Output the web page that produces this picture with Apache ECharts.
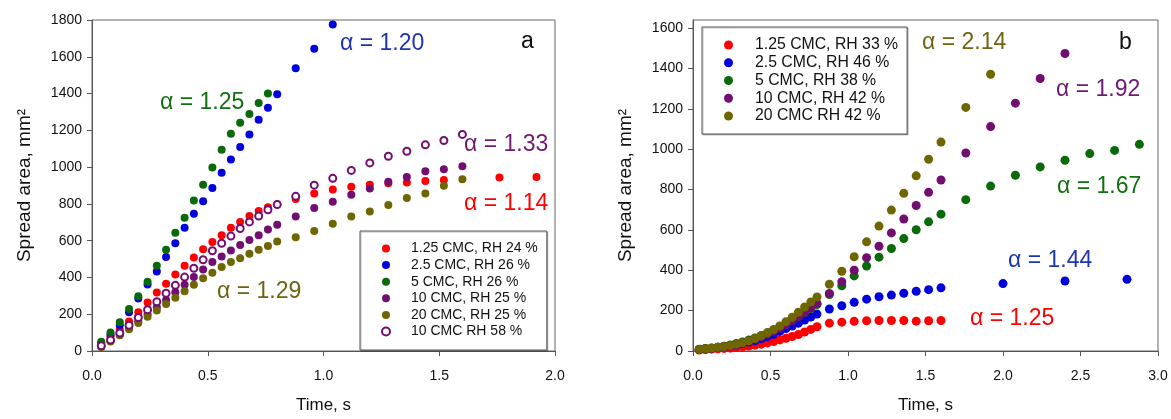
<!DOCTYPE html>
<html>
<head>
<meta charset="utf-8">
<title>Spread area vs time</title>
<script src="https://cdn.jsdelivr.net/npm/echarts@6/dist/echarts.min.js"></script>
<style>
  html, body { margin: 0; padding: 0; background: #fff; }
  #chart { width: 1171px; height: 419px; }
</style>
</head>
<body>
<div id="chart"></div>
<script>
// ---- panel a : time axes (s) ----
var tDenseA = [0.04, 0.08, 0.12, 0.16, 0.20, 0.24, 0.28, 0.32, 0.36, 0.40,
               0.44, 0.48, 0.52, 0.56, 0.60, 0.64, 0.68, 0.72, 0.76, 0.80]
var tSparseA = [0.88, 0.96, 1.04, 1.12, 1.20, 1.28, 1.36, 1.44, 1.52, 1.60]
var tRedTailA = [0.88, 0.96, 1.04, 1.12, 1.20, 1.28, 1.36, 1.44, 1.52, 1.76, 1.92]
var tBlueTailA = [0.88, 0.96, 1.04]

// ---- panel a : spread area (mm2) ----
var redA = [40, 80, 116, 161, 211, 264, 318, 366, 416, 464, 509, 553, 593, 630, 670, 702, 734, 761, 782, 798,
            827, 857, 878, 893, 904, 912, 916, 925, 930, 943, 946]
var blueA = [45, 90, 140, 211, 286, 361, 432, 511, 586, 670, 746, 814, 887, 969, 1041, 1110, 1177, 1257, 1323, 1396,
             1537, 1644, 1775]
var greenA = [50, 100, 157, 229, 298, 377, 464, 551, 643, 725, 818, 904, 998, 1094, 1182, 1241, 1289, 1348, 1400]
var purpleA = [25, 55, 90, 125, 162, 200, 238, 277, 320, 360, 402, 443, 484, 514, 546, 577, 604, 630, 661, 687,
               732, 777, 812, 850, 884, 920, 946, 977, 989, 1005]
var oliveA = [22, 52, 85, 118, 152, 186, 220, 255, 290, 325, 360, 395, 425, 457, 484, 505, 529, 550, 571, 595,
              618, 653, 692, 732, 759, 794, 832, 857, 898, 934]
var hollowA = [28, 60, 98, 140, 182, 225, 268, 314, 357, 402, 450, 496, 545, 586, 625, 666, 702, 734, 768, 796,
               841, 902, 939, 982, 1023, 1059, 1086, 1121, 1145, 1178]

// ---- panel b : time axes (s) ----
var tDenseB = [0.04, 0.08, 0.12, 0.16, 0.20, 0.24, 0.28, 0.32, 0.36, 0.40,
               0.44, 0.48, 0.52, 0.56, 0.60, 0.64, 0.68, 0.72, 0.76, 0.80]
var tSparseB = [0.88, 0.96, 1.04, 1.12, 1.20, 1.28, 1.36, 1.44, 1.52, 1.60]
var tBlueTailB = [2.0, 2.4, 2.8]
var tGreenTailB = [1.76, 1.92, 2.08, 2.24, 2.40, 2.56, 2.72, 2.88]
var tPurpleTailB = [1.76, 1.92, 2.08, 2.24, 2.40]
var tOliveTailB = [1.76, 1.92]

// ---- panel b : spread area (mm2) ----
var redB = [5, 7, 9, 11, 13, 15, 18, 21, 25, 29, 34, 40, 47, 55, 63, 72, 82, 94, 107, 120,
            138, 143, 147, 150, 151, 151, 151, 148, 150, 151]
var blueB = [7, 10, 13, 17, 21, 26, 31, 37, 44, 52, 61, 71, 83, 97, 111, 124, 138, 153, 168, 183,
             208, 224, 241, 257, 269, 277, 286, 296, 304, 313,
             334, 347, 355]
var greenB = [9, 12, 15, 19, 24, 30, 37, 45, 54, 65, 77, 90, 104, 119, 135, 152, 171, 190, 210, 230,
              280, 323, 372, 421, 465, 508, 557, 601, 640, 678,
              750, 817, 871, 912, 945, 978, 994, 1024]
var purpleB = [8, 11, 14, 18, 22, 27, 33, 40, 49, 59, 70, 83, 97, 113, 130, 150, 170, 192, 213, 236,
               285, 343, 400, 462, 519, 585, 654, 721, 786, 847,
               981, 1112, 1228, 1350, 1474]
var oliveB = [8, 11, 14, 18, 22, 27, 34, 41, 50, 62, 75, 90, 106, 124, 145, 167, 192, 218, 243, 268,
              331, 395, 467, 541, 619, 698, 781, 868, 950, 1035,
              1207, 1371]

var namesA = ['1.25 CMC, RH 24 %', '2.5 CMC, RH 26 %', '5 CMC, RH 26 %', '10 CMC, RH 25 %', '20 CMC, RH 25 %', '10 CMC RH 58 %']
var namesB = ['1.25 CMC, RH 33 %', '2.5 CMC, RH 46 %', '5 CMC, RH 38 %', '10 CMC, RH 42 %', '20 CMC RH 42 %']

var RED = '#ff0000'
var BLUE = '#0000dc'
var GREEN = '#0a6a0a'
var PURPLE = '#720e72'
var OLIVE = '#6f6600'
var FONT = "'Liberation Sans', Arial, sans-serif"

function pairs(times, values) {
  var out = []
  for (var i = 0; i < values.length; i++) {
    out.push([times[i], values[i]])
  }
  return out
}

function scatter(name, data, color, axis, size, hollow) {
  return {
    name: name,
    type: 'scatter',
    xAxisIndex: axis,
    yAxisIndex: axis,
    data: data,
    symbol: hollow ? 'emptyCircle' : 'circle',
    symbolSize: size,
    itemStyle: hollow
      ? { color: color, borderColor: color, borderWidth: 2, opacity: 1 }
      : { color: color, opacity: 1 },
    emphasis: { disabled: true }
  }
}

function xAxis(grid, max) {
  return {
    gridIndex: grid, type: 'value', min: 0, max: max, interval: 0.5,
    name: 'Time, s', nameLocation: 'middle', nameGap: 46,
    nameTextStyle: { fontSize: 17, color: '#111', fontFamily: FONT },
    axisLine: { lineStyle: { color: '#555' } },
    axisTick: { length: 5, lineStyle: { color: '#555' } },
    axisLabel: { margin: 18, fontSize: 14, color: '#111', fontFamily: FONT,
      formatter: function (v) { return v.toFixed(1) } },
    splitLine: { show: false }
  }
}

function yAxis(grid, max, ticks) {
  var ax = {
    gridIndex: grid, type: 'value', min: 0, max: max, interval: 200,
    name: 'Spread area, mm²', nameLocation: 'middle', nameGap: 58,
    nameTextStyle: { fontSize: 19, color: '#111', fontFamily: FONT },
    axisLine: { show: true, lineStyle: { color: '#555' } },
    axisTick: { show: true, length: 5, lineStyle: { color: '#555' } },
    axisLabel: { margin: 10, fontSize: 14, color: '#111', fontFamily: FONT,
      formatter: function (v) { return String(v) } },
    splitLine: { show: false }
  }
  if (ticks) {
    ax.axisTick.customValues = ticks
    ax.axisLabel.customValues = ticks
  }
  return ax
}

function legend(names, left, top, size, font, lineH, gap, pad, textPad, hollowName) {
  return {
    orient: 'vertical', left: left, top: top,
    data: names.map(function (n) { return { name: n, icon: n === hollowName ? 'emptyCircle' : 'circle' } }),
    itemWidth: size, itemHeight: size, itemGap: gap,
    padding: pad,
    borderColor: '#555', borderWidth: 1, backgroundColor: '#fff',
    shadowColor: 'rgba(0,0,0,0.25)', shadowOffsetX: 1, shadowOffsetY: 1, shadowBlur: 0,
    selectedMode: false,
    textStyle: { fontSize: font, lineHeight: lineH, color: '#111', fontFamily: FONT, padding: [0, 0, 0, textPad] }
  }
}

function note(text, x, y, color, size) {
  return {
    type: 'text', x: x, y: y, z: 100,
    style: { text: text, fill: color, font: (size || 23) + 'px ' + FONT, align: 'left', verticalAlign: 'middle' }
  }
}

var chart = echarts.init(document.getElementById('chart'))
var option = {
  animation: false,
  backgroundColor: '#fff',
  grid: [
    { left: 92, top: 20, width: 463, height: 336, show: true, borderColor: '#666', borderWidth: 1 },
    { left: 693, top: 20, width: 465, height: 334, show: true, borderColor: '#666', borderWidth: 1 }
  ],
  xAxis: [xAxis(0, 2), xAxis(1, 3)],
  yAxis: [
    yAxis(0, 1800),
    yAxis(1, 1640, [0, 200, 400, 600, 800, 1000, 1200, 1400, 1600])
  ],
  legend: [
    legend(namesA, 360, 231, 8, 14, 15, 1.6, [10, 9, 11, 21], 16, '10 CMC RH 58 %'),
    legend(namesB, 702, 27, 9, 15.8, 16, 1.75, [10, 9, 10, 22], 17, null)
  ],
  series: [
    scatter(namesA[0], pairs(tDenseA.concat(tRedTailA), redA), RED, 0, 8),
    scatter(namesA[1], pairs(tDenseA.concat(tBlueTailA), blueA), BLUE, 0, 8),
    scatter(namesA[2], pairs(tDenseA, greenA), GREEN, 0, 8),
    scatter(namesA[3], pairs(tDenseA.concat(tSparseA), purpleA), PURPLE, 0, 8),
    scatter(namesA[4], pairs(tDenseA.concat(tSparseA), oliveA), OLIVE, 0, 8),
    scatter(namesA[5], pairs(tDenseA.concat(tSparseA), hollowA), PURPLE, 0, 7, true),
    scatter(namesB[0], pairs(tDenseB.concat(tSparseB), redB), RED, 1, 9),
    scatter(namesB[1], pairs(tDenseB.concat(tSparseB, tBlueTailB), blueB), BLUE, 1, 9),
    scatter(namesB[2], pairs(tDenseB.concat(tSparseB, tGreenTailB), greenB), GREEN, 1, 9),
    scatter(namesB[3], pairs(tDenseB.concat(tSparseB, tPurpleTailB), purpleB), PURPLE, 1, 9),
    scatter(namesB[4], pairs(tDenseB.concat(tSparseB, tOliveTailB), oliveB), OLIVE, 1, 9)
  ],
  graphic: [
    note('α = 1.20', 340, 44, '#1f35b0'),
    note('α = 1.25', 160, 103, '#127012'),
    note('α = 1.33', 464, 145, '#6e1a6e'),
    note('α = 1.14', 464, 204, RED),
    note('α = 1.29', 217, 292, '#6e6414'),
    note('a', 521, 42, '#111'),
    note('α = 2.14', 922, 43, '#6e6414'),
    note('α = 1.92', 1056, 90, '#6e1a6e'),
    note('α = 1.67', 1057, 187, '#127012'),
    note('α = 1.44', 1008, 261, '#1f35b0'),
    note('α = 1.25', 970, 319, RED),
    note('b', 1119, 43, '#111')
  ]
}
chart.setOption(option)
</script>
</body>
</html>
